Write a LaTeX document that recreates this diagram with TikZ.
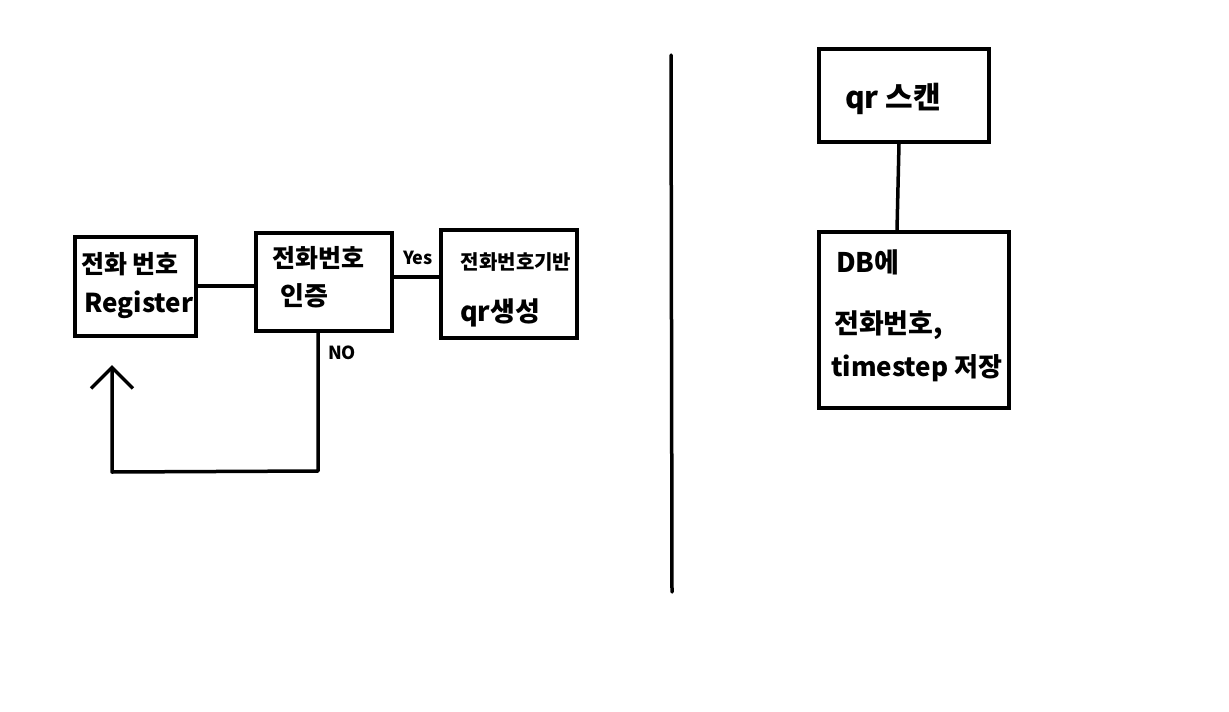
\documentclass[tikz,border=0pt]{standalone}
\usepackage{fontspec}
\setmainfont{Noto Sans CJK KR}
\usetikzlibrary{arrows.meta}
\begin{document}
\begin{tikzpicture}[x=1pt,y=-1pt,
  box/.style={draw=black,line width=3.5pt,minimum width=#1,inner sep=0pt},
  lbl/.style={font=\fontsize{#1}{#1}\selectfont\bfseries,inner sep=0pt,text=black},
  lbl/.default=26,
  wire/.style={draw=black,line width=3.5pt,line cap=round,line join=round}]
\useasboundingbox (0,0) rectangle (1229,712);
% left part boxes
\node[box=121pt,minimum height=99pt] (reg) at (135.5,286.5) {};
\node[box=136pt,minimum height=98pt] (auth) at (324,282) {};
\node[box=136pt,minimum height=108pt] (gen) at (509,284) {};
% texts
\node[lbl=25] (t1) at (130,264) {전화 번호};
\node[lbl=26] (t2) at (139,305) {Register};
\node[lbl=25] (t3) at (318,258) {전화번호};
\node[lbl=26] (t4) at (304,296) {인증};
\node[lbl=20] (t5) at (516,262) {전화번호기반};
\node[lbl=27] (t6) at (500,313) {qr생성};
\node[lbl=18] (yes) at (418,258) {Yes};
\node[lbl=18] (no) at (342,353) {NO};
% connectors
\draw[wire] (reg.east |- 0,286) -- (auth.west |- 0,286);
\draw[wire] (auth.east |- 0,277) -- (gen.west |- 0,277);
\coordinate (c1) at (318,471);
\coordinate (c2) at (112,472);
\coordinate (tip) at (112,365);
\draw[wire,-{Straight Barb[length=21pt,width=42pt,line width=3.5pt]}] (auth.south -| c1) -- (c1) -- (c2) -- (tip);
% divider
\coordinate (d1) at (671,55);
\coordinate (d2) at (672,592);
\draw[wire] (d1) -- (d2);
% right part
\node[box=170pt,minimum height=93pt] (scan) at (904,95.5) {};
\node[lbl=30] (t7) at (893,99) {qr 스캔};
\node[box=190pt,minimum height=176pt] (db) at (914,320) {};
\node[lbl=27,anchor=west] (t8) at (836,262) {DB에};
\node[lbl=27,anchor=west] (t9) at (834,325) {전화번호,};
\node[lbl=26,anchor=west] (t10) at (831,368) {timestep 저장};
\draw[wire] (scan.south -| 899,0) -- (db.north -| 897,0);
\end{tikzpicture}
\end{document}
